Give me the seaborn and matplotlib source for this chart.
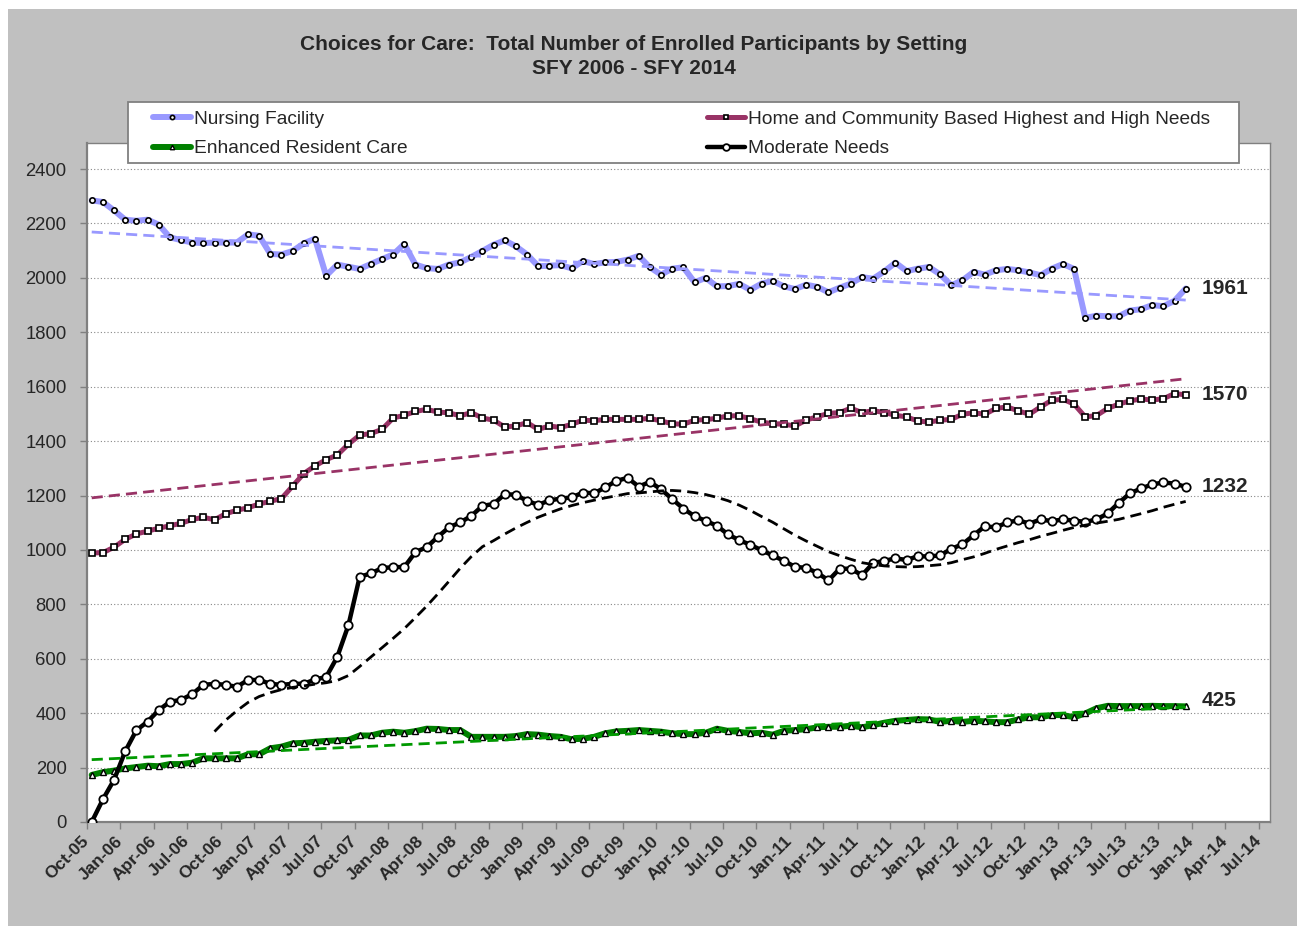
import numpy as np
import pandas as pd
import matplotlib
matplotlib.use("Agg")
import matplotlib.pyplot as plt
import seaborn as sns
from matplotlib.lines import Line2D
from matplotlib.patches import Rectangle
from matplotlib.transforms import ScaledTranslation

# monthly enrolment, Oct-05 .. Dec-13
nursing = [2285, 2279, 2248, 2214, 2210, 2214, 2196, 2149, 2139, 2130, 2128, 2130, 2130, 2130, 2160,
           2155, 2088, 2086, 2099, 2127, 2144, 2008, 2049, 2041, 2033, 2051, 2069, 2086, 2125, 2049,
           2036, 2033, 2049, 2057, 2077, 2099, 2122, 2138, 2116, 2086, 2043, 2045, 2047, 2035, 2062,
           2051, 2057, 2059, 2067, 2081, 2039, 2012, 2034, 2039, 1984, 2000, 1969, 1970, 1978, 1956,
           1979, 1989, 1969, 1959, 1975, 1967, 1947, 1964, 1979, 2003, 1997, 2024, 2056, 2025, 2034,
           2040, 2013, 1973, 1991, 2022, 2012, 2028, 2033, 2028, 2020, 2010, 2034, 2051, 2033, 1853,
           1861, 1859, 1859, 1880, 1885, 1900, 1896, 1916, 1961]
hcbs = [989, 990, 1010, 1039, 1059, 1069, 1080, 1089, 1098, 1112, 1120, 1111, 1133, 1146, 1155,
        1169, 1179, 1189, 1235, 1281, 1309, 1332, 1349, 1389, 1422, 1428, 1443, 1485, 1495, 1509,
        1517, 1507, 1504, 1493, 1505, 1485, 1477, 1452, 1456, 1468, 1443, 1456, 1450, 1462, 1477,
        1475, 1480, 1480, 1480, 1480, 1484, 1474, 1464, 1462, 1477, 1479, 1484, 1493, 1493, 1482,
        1470, 1464, 1462, 1456, 1477, 1490, 1502, 1505, 1521, 1505, 1512, 1505, 1495, 1489, 1474,
        1470, 1477, 1480, 1499, 1504, 1499, 1520, 1526, 1511, 1499, 1526, 1550, 1554, 1536, 1489,
        1494, 1520, 1536, 1548, 1555, 1551, 1556, 1575, 1570]
erc = [173, 183, 189, 197, 202, 207, 205, 213, 213, 218, 234, 234, 234, 234, 249,
       249, 271, 277, 289, 291, 295, 298, 300, 302, 318, 318, 328, 332, 328, 334,
       343, 342, 338, 338, 313, 313, 313, 313, 316, 323, 321, 316, 313, 304, 306,
       313, 326, 333, 335, 338, 335, 332, 326, 323, 323, 328, 343, 335, 331, 326,
       328, 321, 335, 338, 341, 348, 350, 350, 354, 348, 356, 365, 372, 375, 378,
       377, 368, 372, 368, 372, 370, 367, 367, 377, 385, 385, 393, 393, 385, 399,
       418, 427, 426, 426, 426, 427, 426, 426, 425]
moderate = [0, 83, 155, 260, 337, 369, 411, 442, 449, 470, 504, 508, 504, 497, 522,
            522, 508, 504, 508, 508, 524, 533, 607, 724, 901, 914, 933, 937, 937, 992,
            1010, 1048, 1083, 1101, 1125, 1162, 1169, 1205, 1203, 1180, 1166, 1182, 1189, 1193, 1211,
            1208, 1230, 1254, 1265, 1233, 1250, 1223, 1187, 1152, 1124, 1107, 1089, 1057, 1036, 1019,
            999, 980, 960, 938, 934, 916, 888, 931, 931, 907, 952, 960, 969, 963, 977,
            976, 980, 1004, 1021, 1054, 1087, 1083, 1101, 1109, 1097, 1112, 1106, 1112, 1108, 1103,
            1112, 1134, 1173, 1208, 1226, 1241, 1248, 1244, 1232]

tick_labels = pd.date_range("2005-10-01", "2014-07-01", freq="3MS").strftime("%b-%y").tolist()
end_labels = ["1961", "1570", "1232", "425"]

W, H = 1297, 926
x = np.arange(len(nursing)) + 0.45

sns.set_theme(style="white")
plt.rcParams["font.family"] = ["Liberation Sans", "DejaVu Sans"]

fig = plt.figure(figsize=(W / 100, H / 100), dpi=100)
fig.patch.set_facecolor("white")
fig.add_artist(Rectangle((8 / W, 0), 1 - 8 / W, 1 - 9 / H, transform=fig.transFigure,
                         facecolor="#C0C0C0", edgecolor="none", zorder=-10))
ax = fig.add_axes([86.7 / W, 1 - 822 / H, (1270 - 86.7) / W, (822 - 142.7) / H])
ax.set_facecolor("white")

styles = [
    (nursing, "#9999FF", 4.3, "o", 3.8, "white", 1.2),
    (hcbs, "#993366", 3.6, "s", 4.2, "white", 1.2),
    (erc, "#008000", 4.3, "^", 4.0, "white", 1.0),
    (moderate, "black", 3.2, "o", 6.0, "white", 1.3),
]
for vals, col, lw, mk, ms, mfc, mew in styles:
    sns.lineplot(x=x, y=vals, ax=ax, color=col, lw=lw, marker=mk, markersize=ms,
                 markerfacecolor=mfc, markeredgecolor="black", markeredgewidth=mew, zorder=3)

# trend lines
trend_kws = dict(lw=2.0, dashes=(4, 2.2), zorder=4)
for vals, col in [(nursing, "#9999FF"), (hcbs, "#993366"), (erc, "#009900")]:
    sns.regplot(x=x, y=np.array(vals), ax=ax, scatter=False, ci=None, truncate=True,
                color=col, line_kws=trend_kws)
ma = pd.Series(moderate).rolling(12).mean()
sns.lineplot(x=x, y=ma.values, ax=ax, color="black", **trend_kws)

ax.set_xlim(0, 106)
ax.set_ylim(0, 2497)
ax.set_yticks(range(0, 2401, 200))
ax.set_xticks(range(0, 106, 3))
ax.set_xticklabels(tick_labels, rotation=45, ha="right", va="center",
                   rotation_mode="anchor", fontsize=12.5, fontweight="bold")
for lab in ax.get_xticklabels():
    lab.set_transform(lab.get_transform() + ScaledTranslation(0.08, 0, fig.dpi_scale_trans))
ax.tick_params(axis="x", direction="out", length=5, width=1, color="#808080", pad=7, bottom=True)
ax.tick_params(axis="y", direction="out", length=5, width=1, color="#808080", pad=9.5,
               labelsize=13.3, left=True)
ax.set_xlabel("")
ax.set_ylabel("")
ax.yaxis.grid(True, linestyle=(0, (1, 2)), color="#888888", lw=0.8)
ax.xaxis.grid(False)
for s in ax.spines.values():
    s.set_color("#808080")
    s.set_linewidth(1.0)
ax.spines["left"].set_linewidth(1.6)
ax.spines["bottom"].set_linewidth(1.6)

for vals, txt in zip([nursing, hcbs, moderate, erc], end_labels):
    dy = 6 if txt == "425" else 0
    ax.annotate(txt, xy=(x[len(vals) - 1], vals[-1]), xytext=(16, dy), textcoords="offset pixels",
                ha="left", va="center", fontsize=15, fontweight="bold")

fig.text(633.5 / W, 1 - 44 / H, "Choices for Care:  Total Number of Enrolled Participants by Setting",
         ha="center", va="center", fontsize=15, fontweight="bold")
fig.text(633.5 / W, 1 - 68 / H, "SFY 2006 - SFY 2014", ha="center", va="center",
         fontsize=15, fontweight="bold")

# legend box
fig.add_artist(Rectangle((128 / W, 1 - 163 / H), (1239 - 128) / W, 61 / H, transform=fig.transFigure,
                         facecolor="white", edgecolor="#808080", lw=1.3, zorder=8))
names = ["Nursing Facility", "Enhanced Resident Care",
         "Home and Community Based Highest and High Needs", "Moderate Needs"]
handle_style = [styles[0], styles[2], styles[1], styles[3]]
handles = [Line2D([], [], color=c, lw=lw, marker=mk, markersize=ms * 0.8, markerfacecolor=mfc,
                  markeredgecolor="black", markeredgewidth=mew)
           for _, c, lw, mk, ms, mfc, mew in handle_style]
leg = fig.legend(handles, names, ncol=2, loc="center left", bbox_to_anchor=(153 / W, 1 - 134 / H),
                 frameon=False, fontsize=13.8, handlelength=2.0, handletextpad=0.15,
                 columnspacing=15.6, labelspacing=0.62, borderpad=0, borderaxespad=0)
leg.set_zorder(10)

fig.savefig("out.png", dpi=100, facecolor=fig.get_facecolor())
